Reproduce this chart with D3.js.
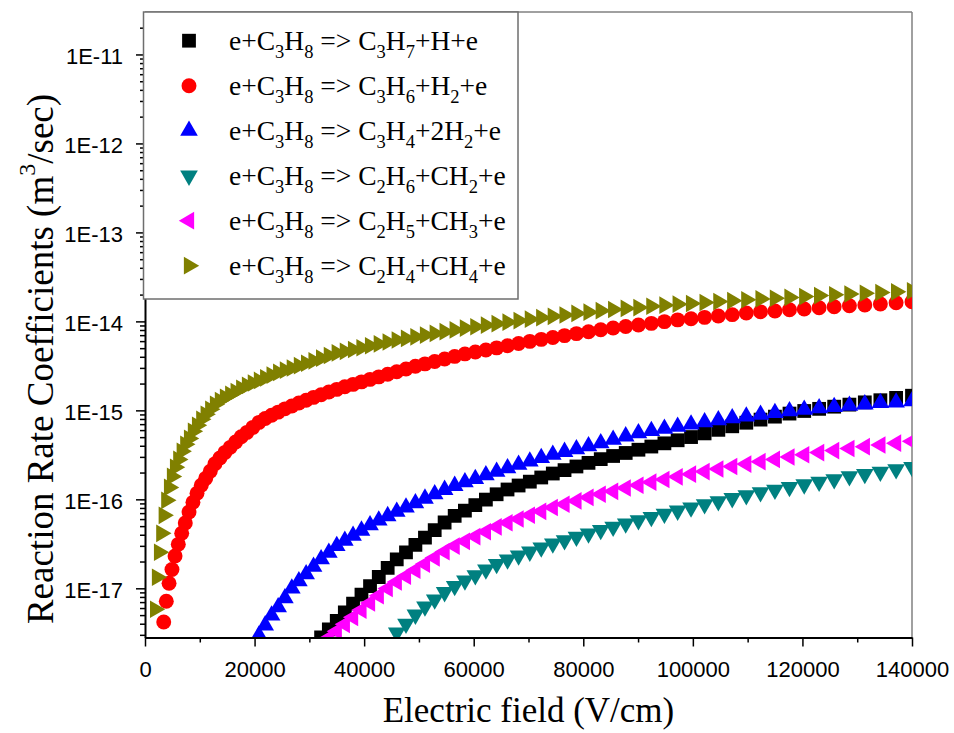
<!DOCTYPE html>
<html>
<head>
<meta charset="utf-8">
<script src="https://cdn.jsdelivr.net/npm/d3@7"></script>
<style>
  body { margin: 0; background: #fff; }
</style>
</head>
<body>
<div id="my_dataviz"></div>
<script>
// electric field grid (V/cm), shared by all six reactions
var fieldE = [1838, 2188, 2567, 2977, 3418, 3889, 4390, 4922, 5484, 6076,
  6699, 7352, 8036, 8750, 9494, 10269, 11074, 11910, 12776, 13672,
  14598, 15556, 16543, 17561, 18609, 19688, 20797, 21936, 23105, 24306,
  25536, 26797, 28088, 29410, 30762, 32144, 33557, 35000, 36474, 37977,
  39512, 41076, 42671, 44297, 45952, 47639, 49355, 51102, 52879, 54688,
  56526, 58394, 60293, 62222, 64182, 66172, 68192, 70243, 72325, 74436,
  76578, 78750, 80953, 83186, 85449, 87743, 90067, 92422, 94807, 97222,
  99668, 102144, 104651, 107188, 109755, 112352, 114980, 117639, 120327, 123047,
  125796, 128576, 131387, 134227, 137099, 140000];

// rate coefficients (m3/sec), null where the point lies under the axis
var kC3H7 = [null, null, null, null, null, null, null, null, null, null,
  null, null, null, null, null, null, null, null, null, null,
  null, null, null, null, null, null, null, null, null, null,
  null, null, null, null, null, 2.81e-18, 3.46e-18, 4.30e-18, 5.37e-18, 6.73e-18,
  8.47e-18, 1.06e-17, 1.34e-17, 1.70e-17, 2.11e-17, 2.54e-17, 3.07e-17, 3.71e-17, 4.51e-17, 5.49e-17,
  6.50e-17, 7.46e-17, 8.61e-17, 9.93e-17, 1.14e-16, 1.29e-16, 1.43e-16, 1.58e-16, 1.76e-16, 1.95e-16,
  2.13e-16, 2.34e-16, 2.57e-16, 2.83e-16, 3.07e-16, 3.32e-16, 3.61e-16, 3.92e-16, 4.26e-16, 4.61e-16,
  5.01e-16, 5.51e-16, 6.04e-16, 6.62e-16, 7.26e-16, 7.87e-16, 8.50e-16, 9.20e-16, 9.84e-16, 1.04e-15,
  1.10e-15, 1.16e-15, 1.23e-15, 1.30e-15, 1.38e-15, 1.46e-15];

var kC3H6 = [null, null, null, null, 4.18e-18, 7.14e-18, 1.14e-17, 1.63e-17, 2.31e-17, 3.12e-17,
  4.15e-17, 5.42e-17, 7.20e-17, 9.25e-17, 1.17e-16, 1.44e-16, 1.72e-16, 2.07e-16, 2.51e-16, 2.92e-16,
  3.37e-16, 3.84e-16, 4.40e-16, 5.06e-16, 5.66e-16, 6.44e-16, 7.33e-16, 8.09e-16, 8.81e-16, 9.55e-16,
  1.04e-15, 1.12e-15, 1.21e-15, 1.30e-15, 1.40e-15, 1.50e-15, 1.61e-15, 1.72e-15, 1.84e-15, 1.96e-15,
  2.09e-15, 2.23e-15, 2.38e-15, 2.55e-15, 2.72e-15, 2.92e-15, 3.13e-15, 3.33e-15, 3.54e-15, 3.78e-15,
  4.04e-15, 4.31e-15, 4.53e-15, 4.77e-15, 5.04e-15, 5.32e-15, 5.63e-15, 5.96e-15, 6.28e-15, 6.59e-15,
  6.92e-15, 7.28e-15, 7.66e-15, 8.05e-15, 8.41e-15, 8.75e-15, 9.12e-15, 9.50e-15, 9.93e-15, 1.04e-14,
  1.07e-14, 1.11e-14, 1.15e-14, 1.19e-14, 1.24e-14, 1.28e-14, 1.31e-14, 1.35e-14, 1.38e-14, 1.42e-14,
  1.46e-14, 1.50e-14, 1.53e-14, 1.57e-14, 1.62e-14, 1.66e-14];

var kC3H4 = [null, null, null, null, null, null, null, null, null, null,
  null, null, null, null, null, null, null, null, null, null,
  null, null, null, null, null, null, 2.96e-18, 3.84e-18, 4.97e-18, 6.15e-18,
  7.74e-18, 9.95e-18, 1.20e-17, 1.44e-17, 1.75e-17, 2.12e-17, 2.52e-17, 2.99e-17, 3.44e-17, 3.90e-17,
  4.46e-17, 5.12e-17, 5.79e-17, 6.49e-17, 7.28e-17, 8.11e-17, 9.06e-17, 1.02e-16, 1.14e-16, 1.28e-16,
  1.42e-16, 1.56e-16, 1.70e-16, 1.87e-16, 2.05e-16, 2.24e-16, 2.45e-16, 2.67e-16, 2.92e-16, 3.18e-16,
  3.42e-16, 3.67e-16, 3.96e-16, 4.28e-16, 4.68e-16, 5.11e-16, 5.53e-16, 5.87e-16, 6.22e-16, 6.56e-16,
  6.96e-16, 7.35e-16, 7.75e-16, 8.19e-16, 8.57e-16, 8.94e-16, 9.36e-16, 9.79e-16, 1.02e-15, 1.06e-15,
  1.09e-15, 1.13e-15, 1.17e-15, 1.21e-15, 1.23e-15, 1.27e-15];

var kC2H6 = [null, null, null, null, null, null, null, null, null, null,
  null, null, null, null, null, null, null, null, null, null,
  null, null, null, null, null, null, null, null, null, null,
  null, null, null, null, null, null, null, null, null, null,
  null, null, null, null, 3.18e-18, 3.99e-18, 5.05e-18, 6.22e-18, 7.48e-18, 9.04e-18,
  1.06e-17, 1.22e-17, 1.40e-17, 1.62e-17, 1.87e-17, 2.10e-17, 2.33e-17, 2.58e-17, 2.87e-17, 3.18e-17,
  3.47e-17, 3.78e-17, 4.13e-17, 4.51e-17, 4.90e-17, 5.33e-17, 5.81e-17, 6.32e-17, 6.87e-17, 7.45e-17,
  8.09e-17, 8.79e-17, 9.51e-17, 1.03e-16, 1.11e-16, 1.20e-16, 1.28e-16, 1.37e-16, 1.47e-16, 1.57e-16,
  1.68e-16, 1.81e-16, 1.92e-16, 2.04e-16, 2.17e-16, 2.31e-16];

var kC2H5 = [null, null, null, null, null, null, null, null, null, null,
  null, null, null, null, null, null, null, null, null, null,
  null, null, null, null, null, null, null, null, null, null,
  null, null, null, null, null, null, 2.77e-18, 3.30e-18, 3.94e-18, 4.72e-18,
  5.69e-18, 6.85e-18, 8.26e-18, 9.95e-18, 1.18e-17, 1.37e-17, 1.60e-17, 1.87e-17, 2.20e-17, 2.58e-17,
  2.98e-17, 3.37e-17, 3.81e-17, 4.32e-17, 4.90e-17, 5.45e-17, 6.01e-17, 6.62e-17, 7.33e-17, 8.09e-17,
  8.81e-17, 9.59e-17, 1.05e-16, 1.14e-16, 1.23e-16, 1.34e-16, 1.44e-16, 1.56e-16, 1.67e-16, 1.79e-16,
  1.92e-16, 2.05e-16, 2.19e-16, 2.34e-16, 2.49e-16, 2.65e-16, 2.81e-16, 2.99e-16, 3.17e-16, 3.35e-16,
  3.53e-16, 3.73e-16, 3.91e-16, 4.08e-16, 4.28e-16, 4.49e-16];

var kC2H4 = [5.81e-18, 1.33e-17, 2.54e-17, 4.15e-17, 6.61e-17, 9.75e-17, 1.36e-16, 1.81e-16, 2.29e-16, 2.81e-16,
  3.46e-16, 4.15e-16, 4.84e-16, 5.81e-16, 6.78e-16, 7.92e-16, 9.02e-16, 1.03e-15, 1.17e-15, 1.29e-15,
  1.40e-15, 1.51e-15, 1.63e-15, 1.77e-15, 1.91e-15, 2.03e-15, 2.17e-15, 2.32e-15, 2.49e-15, 2.67e-15,
  2.83e-15, 2.99e-15, 3.18e-15, 3.38e-15, 3.60e-15, 3.86e-15, 4.14e-15, 4.42e-15, 4.61e-15, 4.83e-15,
  5.06e-15, 5.32e-15, 5.58e-15, 5.87e-15, 6.17e-15, 6.43e-15, 6.71e-15, 7.02e-15, 7.33e-15, 7.66e-15,
  8.02e-15, 8.41e-15, 8.71e-15, 9.06e-15, 9.42e-15, 9.79e-15, 1.02e-14, 1.06e-14, 1.10e-14, 1.14e-14,
  1.18e-14, 1.23e-14, 1.27e-14, 1.32e-14, 1.36e-14, 1.40e-14, 1.43e-14, 1.48e-14, 1.52e-14, 1.56e-14,
  1.59e-14, 1.63e-14, 1.67e-14, 1.71e-14, 1.75e-14, 1.79e-14, 1.82e-14, 1.86e-14, 1.90e-14, 1.95e-14,
  1.99e-14, 2.03e-14, 2.07e-14, 2.11e-14, 2.15e-14, 2.20e-14];

var seriesValues = [kC3H7, kC3H6, kC3H4, kC2H6, kC2H5, kC2H4];
var seriesNames = ["e+C_3H_8 => C_3H_7+H+e", "e+C_3H_8 => C_3H_6+H_2+e", "e+C_3H_8 => C_3H_4+2H_2+e",
                   "e+C_3H_8 => C_2H_6+CH_2+e", "e+C_3H_8 => C_2H_5+CH_3+e", "e+C_3H_8 => C_2H_4+CH_4+e"];
var seriesColors = ["#000000", "#ff0000", "#0000ff", "#008080", "#ff00ff", "#808000"];
var seriesShapes = ["square", "circle", "up", "down", "left", "right"];

var xTicks = [0, 20000, 40000, 60000, 80000, 100000, 120000, 140000];
var xMinorTicks = [10000, 30000, 50000, 70000, 90000, 110000, 130000];
var yTicks = [1e-17, 1e-16, 1e-15, 1e-14, 1e-13, 1e-12, 1e-11];

var margin = {top: 12, right: 42, bottom: 95.5, left: 145},
    width = 954 - margin.left - margin.right,
    height = 733 - margin.top - margin.bottom;

var svg = d3.select("#my_dataviz")
  .append("svg")
    .attr("width", 954)
    .attr("height", 733)
  .append("g")
    .attr("transform", "translate(" + margin.left + "," + margin.top + ")");

var x = d3.scaleLinear().domain([0, 140000]).range([0, width]);
var y = d3.scaleLog().domain([2.8e-18, 3e-11]).range([height, 0]);

var sansFont = "'Liberation Sans', Arial, sans-serif";
var serifFont = "'Liberation Serif', 'Times New Roman', serif";

svg.append("clipPath").attr("id", "plotclip")
  .append("rect").attr("width", width).attr("height", height);

// frame top / right (grey)
svg.append("line").attr("x1", 0).attr("x2", width).attr("y1", 0).attr("y2", 0)
  .attr("stroke", "#808080").attr("stroke-width", 1.5);
svg.append("line").attr("x1", width).attr("x2", width).attr("y1", 0).attr("y2", height)
  .attr("stroke", "#808080").attr("stroke-width", 1.5);

// markers
function symbolFor(shape) {
  if (shape == "square") return d3.symbol().type(d3.symbolSquare).size(190)();
  if (shape == "circle") return d3.symbol().type(d3.symbolCircle).size(175)();
  return d3.symbol().type(d3.symbolTriangle).size(135)();
}
var rotation = {square: 0, circle: 0, up: 0, down: 180, left: -90, right: 90};

var plot = svg.append("g").attr("clip-path", "url(#plotclip)");
seriesValues.forEach(function(vals, s) {
  var pts = fieldE.map(function(e, i) { return {e: e, k: vals[i]}; })
    .filter(function(d) { return d.k != null; });
  plot.append("g").selectAll("path")
    .data(pts)
    .enter()
    .append("path")
      .attr("d", symbolFor(seriesShapes[s]))
      .attr("transform", function(d) {
        return "translate(" + x(d.e) + "," + y(d.k) + ") rotate(" + rotation[seriesShapes[s]] + ")";
      })
      .attr("fill", seriesColors[s]);
});

// x axis
var xAxis = svg.append("g")
  .attr("transform", "translate(0," + height + ")")
  .call(d3.axisBottom(x).tickValues(xTicks).tickFormat(d3.format("d"))
    .tickSize(9).tickSizeOuter(0).tickPadding(15));
svg.append("g")
  .attr("transform", "translate(0," + height + ")")
  .call(d3.axisBottom(x).tickValues(xMinorTicks).tickFormat("").tickSize(5).tickSizeOuter(0))
  .select(".domain").remove();

// y axis
var yMinor = [];
for (var p = -18; p <= -11; p++) {
  for (var m = 2; m <= 9; m++) {
    var v = m * Math.pow(10, p);
    if (v > y.domain()[0] && v < y.domain()[1]) yMinor.push(v);
  }
}
var yAxis = svg.append("g")
  .call(d3.axisLeft(y).tickValues(yTicks)
    .tickFormat(function(d) { return "1E" + Math.round(Math.log10(d)); })
    .tickSize(9).tickSizeOuter(0).tickPadding(13));
svg.append("g")
  .call(d3.axisLeft(y).tickValues(yMinor).tickFormat("").tickSize(5).tickSizeOuter(0))
  .select(".domain").remove();

svg.selectAll(".domain").attr("stroke", "#000").attr("stroke-width", 2);
svg.selectAll(".tick line").attr("stroke", "#000").attr("stroke-width", 1.5);
svg.selectAll(".tick text").attr("font-family", sansFont).attr("font-size", 22).attr("fill", "#000");
yAxis.selectAll(".tick text").attr("dy", "0.42em");

// legend
var legend = svg.append("g");
legend.append("rect")
  .attr("x", -1.5).attr("y", 0).attr("width", 374.5).attr("height", 287)
  .attr("fill", "#fff").attr("stroke", "#6e6e6e").attr("stroke-width", 1.5);

seriesNames.forEach(function(name, s) {
  var cy = 28.7 + 45 * s;
  legend.append("path")
    .attr("d", symbolFor(seriesShapes[s]))
    .attr("transform", "translate(44," + cy + ") rotate(" + rotation[seriesShapes[s]] + ")")
    .attr("fill", seriesColors[s]);
  var t = legend.append("text")
    .attr("x", 84).attr("y", 38 + 45 * s)
    .attr("font-family", serifFont).attr("font-size", 27.5).attr("fill", "#000");
  var shifted = false;
  name.split(/(_\d)/).forEach(function(part) {
    if (part == "") return;
    if (part[0] == "_") {
      t.append("tspan").attr("dy", 8).attr("font-size", 18.5).text(part.slice(1));
      shifted = true;
    } else {
      var sp = t.append("tspan").text(part);
      if (shifted) { sp.attr("dy", -8); shifted = false; }
    }
  });
});

// axis titles
svg.append("text")
  .attr("x", width / 2).attr("y", 722 - margin.top)
  .attr("text-anchor", "middle")
  .attr("font-family", serifFont).attr("font-size", 35)
  .text("Electric field (V/cm)");

var yLabel = svg.append("text")
  .attr("transform", "translate(" + (53 - margin.left) + "," + (359 - margin.top) + ") rotate(-90)")
  .attr("text-anchor", "middle")
  .attr("font-family", serifFont).attr("font-size", 37);
yLabel.append("tspan").text("Reaction Rate Coefficients (m");
yLabel.append("tspan").attr("dy", -18).attr("font-size", 24).text("3");
yLabel.append("tspan").attr("dy", 18).text("/sec)");
</script>
</body>
</html>
